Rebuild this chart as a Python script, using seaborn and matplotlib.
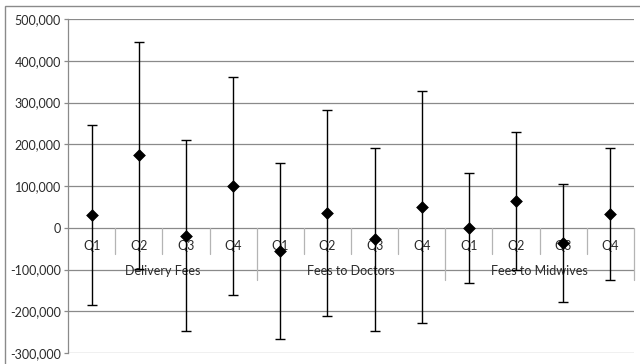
import numpy as np
import pandas as pd
import matplotlib
matplotlib.use('Agg')
import matplotlib.pyplot as plt
import seaborn as sns
from matplotlib.patches import Rectangle
from matplotlib.ticker import FuncFormatter, MultipleLocator

# data (mean and +/- error)
groups = ['Delivery Fees', 'Fees to Doctors', 'Fees to Midwives']
quarters = ['Q1', 'Q2', 'Q3', 'Q4']
delivery_mean = [30000, 174000, -19000, 100000]
delivery_err = [215000, 272000, 228000, 262000]
doctors_mean = [-56000, 35000, -28000, 50000]
doctors_err = [210000, 247000, 220000, 277000]
midwives_mean = [-1000, 64000, -37000, 33000]
midwives_err = [131000, 165000, 141000, 159000]

df = pd.DataFrame({
    'group': np.repeat(groups, 4),
    'quarter': quarters * 3,
    'mean': delivery_mean + doctors_mean + midwives_mean,
    'err': delivery_err + doctors_err + midwives_err,
})
df['pos'] = np.arange(len(df))

sns.set_style('white')
plt.rcParams['font.family'] = ['Lato', 'DejaVu Sans']

fig = plt.figure(figsize=(6.4, 3.64), dpi=100)
ax = fig.add_axes([68 / 640, 11 / 364, 566 / 640, 334 / 364])

grid_col = '#8a8a8a'
sep_col = '#b4b4b4'
txt_col = '#2a2a2a'

# gridlines
for v in range(-300000, 500001, 100000):
    ax.axhline(v, color=grid_col, lw=0.9, zorder=0)

# error bars + diamonds
ax.errorbar(df['pos'], df['mean'], yerr=df['err'], fmt='none', ecolor='black',
            elinewidth=1, capsize=3.5, capthick=1, zorder=3)
sns.scatterplot(data=df, x='pos', y='mean', marker='D', color='black', s=36,
                edgecolor='black', zorder=4, ax=ax, legend=False)

ax.set_xlim(-0.5, 11.5)
ax.set_ylim(-300000, 500000)
ax.yaxis.set_major_locator(MultipleLocator(100000))
ax.yaxis.set_major_formatter(FuncFormatter(lambda v, p: f'{v:,.0f}'))
ax.tick_params(axis='y', which='major', left=True, length=3, width=0.9,
               color=grid_col, labelsize=9, labelcolor=txt_col, pad=2)
ax.set_xticks([])
ax.set_xlabel('')
ax.set_ylabel('')
for s in ['top', 'right', 'bottom']:
    ax.spines[s].set_visible(False)
ax.spines['left'].set_color(grid_col)
ax.spines['left'].set_linewidth(0.9)

# multi-level category axis drawn at zero
for k in range(1, 13):
    low = -125000 if k % 4 == 0 else -62000
    ax.plot([k - 0.5, k - 0.5], [0, low], color=sep_col, lw=0.9, zorder=1,
            clip_on=False)
for _, r in df.iterrows():
    ax.text(r['pos'], -43000, r['quarter'], ha='center', va='center',
            fontsize=9, color=txt_col, zorder=2)
for i, g in enumerate(groups):
    ax.text(i * 4 + 1.5, -103000, g, ha='center', va='center',
            fontsize=9, color=txt_col, zorder=2)

# chart border
fig.patches.append(Rectangle((5 / 640, -0.1), 1.2, 1.1 + 358 / 364 - 1,
                             transform=fig.transFigure, fill=False,
                             edgecolor=grid_col, lw=1))

fig.savefig('out.png', dpi=100)
